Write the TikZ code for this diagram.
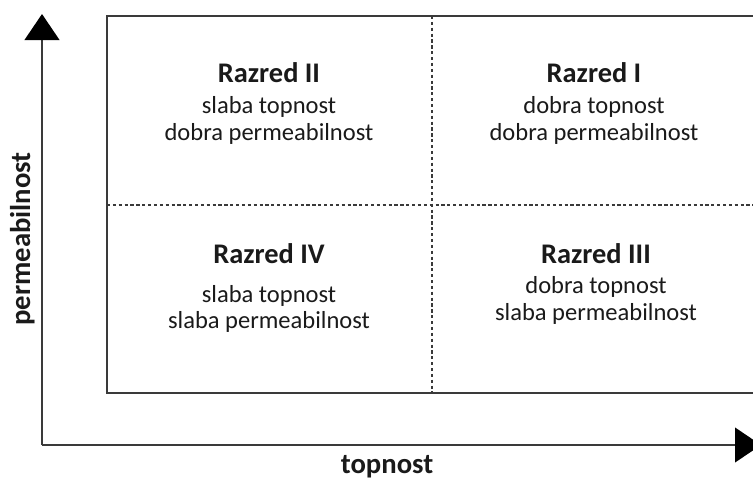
\documentclass[tikz,border=0pt]{standalone}
\usepackage{fontspec}
\setmainfont{Carlito}
\usetikzlibrary{arrows.meta}
\definecolor{linecol}{HTML}{3A3A3A}
\definecolor{txtcol}{HTML}{1A1A1A}
\tikzset{
  boxline/.style={draw=linecol, line width=1.5pt},
  divline/.style={draw=linecol, line width=1.4pt, dash pattern=on 2.4pt off 2.0pt},
  axisline/.style={draw=linecol, line width=1.5pt, -{Triangle[length=19.5pt,width=26pt,color=black]}},
  title/.style={font=\fontsize{21.3}{24}\selectfont\bfseries, text=txtcol, anchor=base, inner sep=0pt},
  desc/.style={font=\fontsize{18.4}{22}\selectfont, text=txtcol, anchor=base, inner sep=0pt},
  axlabel/.style={font=\fontsize{21.5}{24}\selectfont\bfseries, text=txtcol, anchor=base, inner sep=0pt}
}
\begin{document}
\begin{tikzpicture}[x=0.75pt,y=-0.75pt]
\useasboundingbox (0,0) rectangle (753,479);
\fill[white] (0,0) rectangle (753,479);
\clip (0,0) rectangle (753,479);
% grid box
\coordinate (bl) at (107,393);
\coordinate (tr) at (758,16);
\draw[boxline] (bl) rectangle (tr);
\coordinate (vtop) at (432,16);
\coordinate (vbot) at (432,393);
\coordinate (hl) at (107,205);
\coordinate (hr) at (758,205);
\draw[divline] (vtop) -- (vbot);
\draw[divline] (hl) -- (hr);
% axes
\coordinate (o) at (42,445);
\coordinate (ytip) at (42,14);
\coordinate (xtip) at (761,445);
\draw[axisline] (o) -- (ytip);
\draw[axisline] (o) -- (xtip);
% axis labels
\node[axlabel] (xl) at (387,473) {topnost};
\node[axlabel, rotate=90] (yl) at (30,239) {permeabilnost};
% cell II
\node[title] (c2t) at (269,82) {Razred II};
\node[desc] (c2a) at (269,113) {slaba topnost};
\node[desc] (c2b) at (269,140) {dobra permeabilnost};
% cell I
\node[title] (c1t) at (594,82) {Razred I};
\node[desc] (c1a) at (594,113) {dobra topnost};
\node[desc] (c1b) at (594,140) {dobra permeabilnost};
% cell IV
\node[title] (c4t) at (269,263) {Razred IV};
\node[desc] (c4a) at (269,302) {slaba topnost};
\node[desc] (c4b) at (269,328) {slaba permeabilnost};
% cell III
\node[title] (c3t) at (596,263) {Razred III};
\node[desc] (c3a) at (596,293) {dobra topnost};
\node[desc] (c3b) at (596,320) {slaba permeabilnost};
\end{tikzpicture}
\end{document}
